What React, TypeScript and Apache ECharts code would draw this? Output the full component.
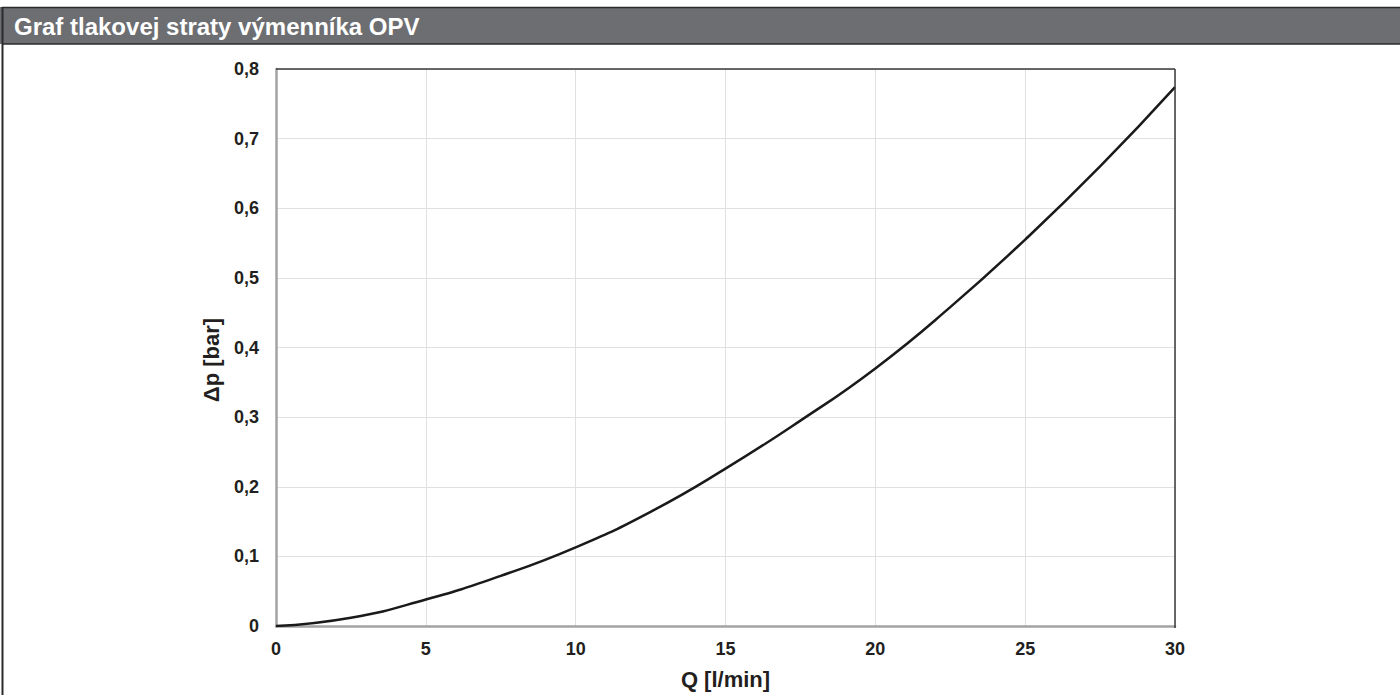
import React, { useEffect, useRef } from "react";
import * as echarts from "echarts";

const titleText = "Graf tlakovej straty výmenníka OPV";
const xName = "Q [l/min]";
const yName = "Δp [bar]";
const flowValues = [0, 2.5, 5, 7.5, 10, 12.5, 15, 17.5, 20, 22.5, 25, 27.5, 30];
const pressureValues = [0, 0.012, 0.038, 0.072, 0.113, 0.164, 0.226, 0.295, 0.37, 0.458, 0.555, 0.66, 0.774];

export default function App() {
  const ref = useRef<HTMLDivElement>(null);
  useEffect(() => {
    document.body.style.margin = "0";
    const chart = echarts.init(ref.current!, null, { renderer: "svg" });
    const font = "'Liberation Sans', Arial, sans-serif";
    chart.setOption({
      animation: false,
      backgroundColor: "#ffffff",
      graphic: [
        { type: "rect", shape: { x: 0, y: 7, width: 1400, height: 37 }, style: { fill: "#6d6e71" }, z: 10 },
        { type: "line", shape: { x1: 2, y1: 7.5, x2: 1400, y2: 7.5 }, style: { stroke: "#2b2b2b", lineWidth: 1.5 }, z: 11 },
        { type: "line", shape: { x1: 2, y1: 44, x2: 1400, y2: 44 }, style: { stroke: "#2b2b2b", lineWidth: 1.5 }, z: 11 },
        { type: "line", shape: { x1: 2.5, y1: 7, x2: 2.5, y2: 695 }, style: { stroke: "#2b2b2b", lineWidth: 2 }, z: 11 },
        { type: "text", x: 14, y: 26, style: { text: titleText, fill: "#ffffff", font: `bold 24px ${font}`, textVerticalAlign: "middle" }, z: 12 },
        { type: "text", x: 211, y: 360, rotation: Math.PI / 2, style: { text: yName, fill: "#231f20", font: `bold 22px ${font}`, textAlign: "center", textVerticalAlign: "middle" }, z: 12 },
        { type: "line", shape: { x1: 276, y1: 69, x2: 1175, y2: 69 }, style: { stroke: "#3a3a3a", lineWidth: 1.5 }, z: 5 },
        { type: "line", shape: { x1: 1175, y1: 69, x2: 1175, y2: 628 }, style: { stroke: "#3a3a3a", lineWidth: 1.5 }, z: 5 },
      ],
      grid: { left: 276, right: 225, top: 69, bottom: 67, containLabel: false },
      xAxis: {
        type: "value",
        min: 0,
        max: 30,
        interval: 5,
        name: xName,
        nameLocation: "middle",
        nameGap: 42,
        nameTextStyle: { fontFamily: font, fontWeight: "bold", fontSize: 22, color: "#231f20" },
        axisLine: { show: true, lineStyle: { color: "#a3a3a3", width: 2.5 } },
        axisTick: { show: false },
        axisLabel: { fontFamily: font, fontWeight: "bold", fontSize: 18, color: "#231f20", margin: 14 },
        splitLine: { show: true, lineStyle: { color: "#e0e0e0", width: 1 } },
      },
      yAxis: {
        type: "value",
        min: 0,
        max: 0.8,
        interval: 0.1,
        axisLine: { show: true, lineStyle: { color: "#a3a3a3", width: 2.5 } },
        axisTick: { show: false },
        axisLabel: {
          fontFamily: font,
          fontWeight: "bold",
          fontSize: 18,
          color: "#231f20",
          margin: 17,
          formatter: (v: number) => (v === 0 ? "0" : v.toFixed(1).replace(".", ",")),
        },
        splitLine: { show: true, lineStyle: { color: "#e0e0e0", width: 1 } },
      },
      series: [
        {
          type: "line",
          data: flowValues.map((q, i) => [q, pressureValues[i]]),
          smooth: 0.5,
          showSymbol: false,
          lineStyle: { color: "#1a1a1a", width: 2.5 },
        },
      ],
    });
    return () => chart.dispose();
  }, []);
  return <div ref={ref} style={{ position: "absolute", left: 0, top: 0, width: 1400, height: 695 }} />;
}
